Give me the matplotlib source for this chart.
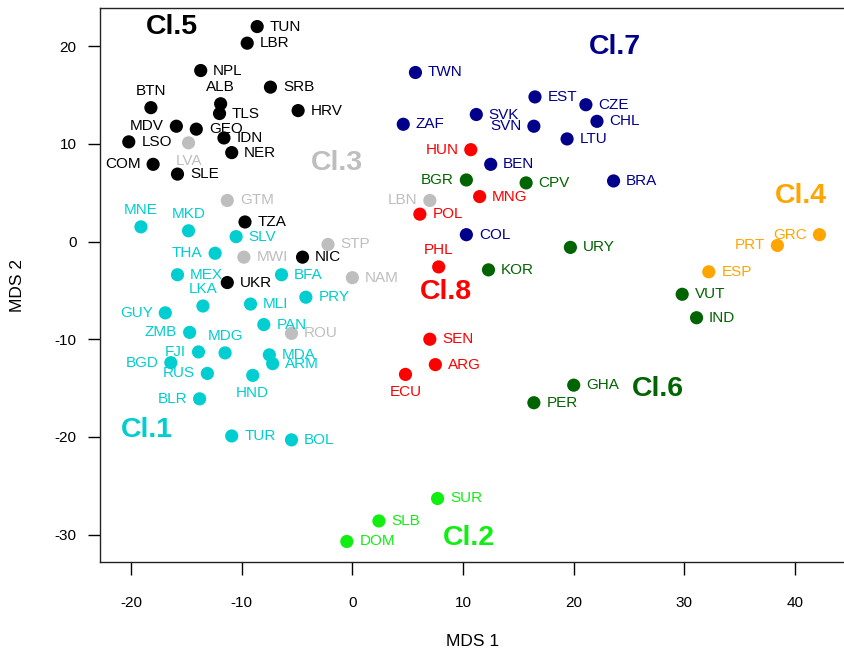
import matplotlib
matplotlib.use('Agg')
import matplotlib.pyplot as plt

plt.rcParams['font.family'] = ['Liberation Sans', 'DejaVu Sans']
plt.rcParams['axes.unicode_minus'] = False

# country codes, MDS coordinates and cluster number
codes = ['TUN', 'LBR', 'NPL', 'SRB', 'ALB', 'TLS', 'HRV', 'BTN', 'MDV', 'GEO',
         'LSO', 'IDN', 'NER', 'COM', 'SLE', 'TZA', 'NIC', 'UKR',
         'LVA', 'GTM', 'MWI', 'STP', 'NAM', 'ROU', 'LBN',
         'MNE', 'MKD', 'SLV', 'THA', 'MEX', 'BFA', 'LKA', 'PRY', 'GUY', 'MLI',
         'PAN', 'ZMB', 'FJI', 'MDG', 'BGD', 'MDA', 'ARM', 'RUS', 'HND', 'BLR',
         'TUR', 'BOL',
         'TWN', 'EST', 'CZE', 'SVK', 'ZAF', 'SVN', 'CHL', 'LTU', 'BEN', 'BRA', 'COL',
         'HUN', 'MNG', 'POL', 'PHL', 'SEN', 'ARG', 'ECU',
         'BGR', 'CPV', 'URY', 'KOR', 'VUT', 'IND', 'GHA', 'PER',
         'GRC', 'PRT', 'ESP',
         'SUR', 'SLB', 'DOM']
mds1 = [-8.6, -9.5, -13.7, -7.4, -11.9, -12.0, -4.9, -18.2, -15.9, -14.1,
        -20.2, -11.6, -10.9, -18.0, -15.8, -9.7, -4.5, -11.3,
        -14.8, -11.3, -9.8, -2.2, 0.0, -5.5, 7.0,
        -19.1, -14.8, -10.5, -12.4, -15.8, -6.4, -13.5, -4.2, -16.9, -9.2,
        -8.0, -14.7, -13.9, -11.5, -16.4, -7.5, -7.2, -13.1, -9.0, -13.8,
        -10.9, -5.5,
        5.7, 16.5, 21.1, 11.2, 4.6, 16.4, 22.1, 19.4, 12.5, 23.6, 10.3,
        10.7, 11.5, 6.1, 7.8, 7.0, 7.5, 4.8,
        10.3, 15.7, 19.7, 12.3, 29.8, 31.1, 20.0, 16.4,
        42.2, 38.4, 32.2,
        7.7, 2.4, -0.5]
mds2 = [22.0, 20.3, 17.5, 15.8, 14.1, 13.1, 13.4, 13.7, 11.8, 11.5,
        10.2, 10.6, 9.1, 7.9, 6.9, 2.0, -1.6, -4.2,
        10.1, 4.2, -1.6, -0.3, -3.7, -9.4, 4.2,
        1.5, 1.1, 0.5, -1.2, -3.4, -3.4, -6.6, -5.7, -7.3, -6.4,
        -8.5, -9.3, -11.3, -11.4, -12.4, -11.6, -12.5, -13.5, -13.7, -16.1,
        -19.9, -20.3,
        17.3, 14.8, 14.0, 13.0, 12.0, 11.8, 12.3, 10.5, 7.9, 6.2, 0.7,
        9.4, 4.6, 2.8, -2.6, -10.0, -12.6, -13.6,
        6.3, 6.0, -0.6, -2.9, -5.4, -7.8, -14.7, -16.5,
        0.7, -0.4, -3.1,
        -26.3, -28.6, -30.7]
cluster = [5] * 18 + [3] * 7 + [1] * 22 + [7] * 11 + [8] * 7 + [6] * 8 + [4] * 3 + [2] * 3

# cluster label positions
cl_names = ['Cl.1', 'Cl.2', 'Cl.3', 'Cl.4', 'Cl.5', 'Cl.6', 'Cl.7', 'Cl.8']
cl_x = [-18.6, 10.5, -1.4, 40.5, -16.3, 27.6, 23.7, 8.5]
cl_y = [-19.3, -30.3, 8.0, 4.7, 22.0, -15.1, 19.9, -5.2]

colors = {1: '#00CED1', 2: '#11EE11', 3: '#BEBEBE', 4: '#FFA500',
          5: 'black', 6: '#006400', 7: '#00008B', 8: '#FF0000'}

# where the country label goes (default: right of the dot)
lab_left = ['MDV', 'COM', 'THA', 'GUY', 'ZMB', 'FJI', 'BGD', 'RUS', 'BLR',
            'SVN', 'HUN', 'BGR', 'LBN', 'GRC', 'PRT']
lab_above = ['ALB', 'BTN', 'MNE', 'MKD', 'LKA', 'MDG', 'PHL']
lab_below = ['LVA', 'HND', 'ECU']

fig = plt.figure(figsize=(8.45, 6.59), dpi=100)
ax = fig.add_axes([100 / 845, 1 - 562 / 659, 746 / 845, 554 / 659])

for c in range(1, 9):
    xs = [x for x, k in zip(mds1, cluster) if k == c]
    ys = [y for y, k in zip(mds2, cluster) if k == c]
    ax.scatter(xs, ys, s=90, color=colors[c], edgecolors='none', zorder=3)

for code, x, y, k in zip(codes, mds1, mds2, cluster):
    if code in lab_left:
        off, ha, va = (-9, 0), 'right', 'center'
    elif code in lab_above:
        off, ha, va = (0, 12), 'center', 'center'
    elif code in lab_below:
        off, ha, va = (0, -13), 'center', 'center'
    else:
        off, ha, va = (9, 0), 'left', 'center'
    ax.annotate(code, (x, y), xytext=off, textcoords='offset points',
                ha=ha, va=va, fontsize=11, color=colors[k], zorder=4)

for name, x, y, c in zip(cl_names, cl_x, cl_y, range(1, 9)):
    ax.text(x, y, name, ha='center', va='center', fontsize=20.5,
            fontweight='bold', color=colors[c])

ax.set_xlim(-22.8, 44.6)
ax.set_ylim(-32.8, 23.9)
ax.set_xticks(range(-20, 41, 10))
ax.set_yticks(range(-30, 21, 10))
ax.tick_params(axis='x', direction='out', length=9.5, width=1, pad=15, labelsize=11)
ax.tick_params(axis='y', direction='out', length=9, width=1, pad=8, labelsize=11)
for sp in ax.spines.values():
    sp.set_linewidth(1.0)
    sp.set_color('#222222')

ax.set_xlabel('MDS 1', fontsize=12.5)
ax.set_ylabel('MDS 2', fontsize=12.5)
ax.xaxis.set_label_coords(0.5, -(641 - 562) / 554)
ax.xaxis.label.set_va('center')
ax.yaxis.set_label_coords(-(100 - 17) / 746, 0.5)
ax.yaxis.label.set_va('center')

fig.savefig('out.png', dpi=100)
